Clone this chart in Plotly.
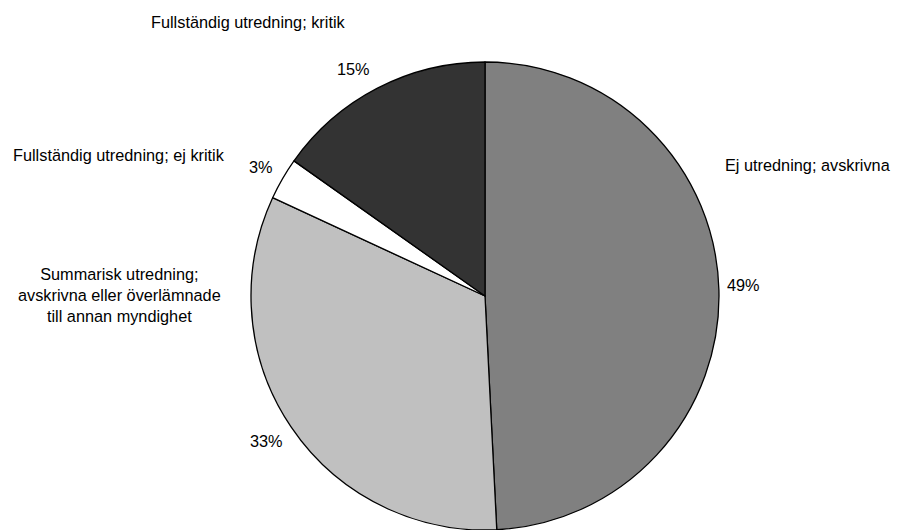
import plotly.graph_objects as go

categories = [
    "Ej utredning; avskrivna",
    "Summarisk utredning;<br>avskrivna eller överlämnade<br>till annan myndighet",
    "Fullständig utredning; ej kritik",
    "Fullständig utredning; kritik",
]
values = [49.2, 32.7, 2.9, 15.2]
colors = ["#808080", "#C0C0C0", "#FFFFFF", "#333333"]

# label placement (paper px) for category names and percentages
cat_pos = [(808, 165), (119, 295), (119, 155), (248, 22)]
pct_pos = [(743, 285), (266, 441), (261, 167), (353, 69)]

W, H = 897, 530
cx, cy, r = 485, 296, 234

fig = go.Figure(go.Pie(
    labels=categories,
    values=values,
    sort=False,
    direction="clockwise",
    rotation=0,
    marker=dict(colors=colors, line=dict(color="#000000", width=1.3)),
    textinfo="none",
    hoverinfo="label+percent",
    domain=dict(x=[(cx - r) / W, (cx + r) / W], y=[(H - cy - r) / H, (H - cy + r) / H]),
    showlegend=False,
))

total = sum(values)
font = dict(family="Liberation Sans, Arial, sans-serif", size=16.3, color="#000000")
for cat, v, (tx, ty), (px, py) in zip(categories, values, cat_pos, pct_pos):
    fig.add_annotation(x=tx / W, y=1 - ty / H, xref="paper", yref="paper",
                       text=cat, showarrow=False, font=font, align="center",
                       xanchor="center", yanchor="middle")
    fig.add_annotation(x=px / W, y=1 - py / H, xref="paper", yref="paper",
                       text=f"{round(v / total * 100)}%", showarrow=False, font=font,
                       xanchor="center", yanchor="middle")

fig.update_layout(
    width=W, height=H,
    margin=dict(l=0, r=0, t=0, b=0),
    paper_bgcolor="#FFFFFF",
    plot_bgcolor="#FFFFFF",
)

fig.write_html("out.html")
